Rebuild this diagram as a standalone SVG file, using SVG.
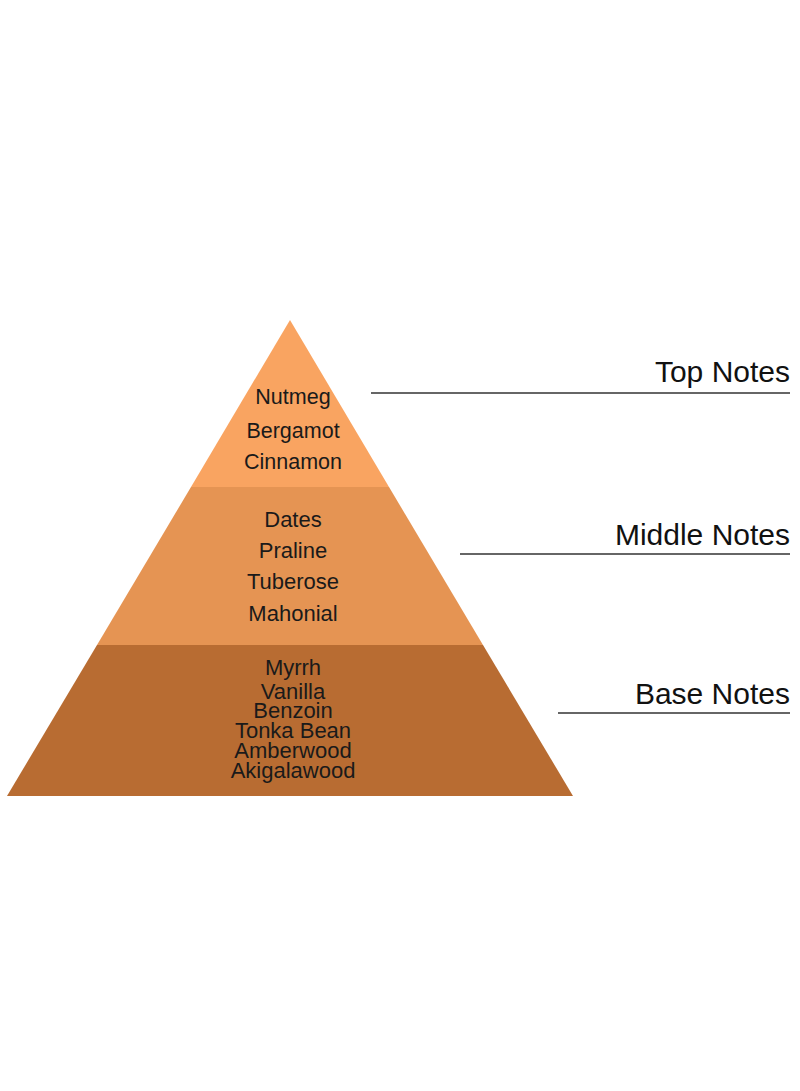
<svg xmlns="http://www.w3.org/2000/svg" width="800" height="1091" viewBox="0 0 800 1091">
<style>
.note{font-family:"Liberation Sans",Arial,sans-serif;fill:#1a1a1a;text-anchor:middle}
.lbl{font-family:"Liberation Sans",Arial,sans-serif;font-size:30px;fill:#111;text-anchor:end}
.ln{stroke:#333;stroke-width:1.6;fill:none}
</style>
<rect width="800" height="1091" fill="#ffffff"/>
<g id="top-tier">
<polygon points="290,320 389,487 191,487" fill="#F9A461"/>
<text class="note" x="293" y="404" font-size="21.5">Nutmeg</text>
<text class="note" x="293" y="438" font-size="21.5">Bergamot</text>
<text class="note" x="293" y="469" font-size="21.5">Cinnamon</text>
</g>
<g id="middle-tier">
<polygon points="191,487 389,487 483,645 97,645" fill="#E59453"/>
<text class="note" x="293" y="527" font-size="22">Dates</text>
<text class="note" x="293" y="558" font-size="22">Praline</text>
<text class="note" x="293" y="589" font-size="22">Tuberose</text>
<text class="note" x="293" y="621" font-size="22">Mahonial</text>
</g>
<g id="base-tier">
<polygon points="97,645 483,645 573,796 7,796" fill="#B86C32"/>
<text class="note" x="293" y="675" font-size="22">Myrrh</text>
<text class="note" x="293" y="699" font-size="22">Vanilla</text>
<text class="note" x="293" y="718" font-size="22">Benzoin</text>
<text class="note" x="293" y="738" font-size="22">Tonka Bean</text>
<text class="note" x="293" y="758" font-size="22">Amberwood</text>
<text class="note" x="293" y="778" font-size="22">Akigalawood</text>
</g>
<g id="label-top"><text class="lbl" x="790" y="382">Top Notes</text></g>
<g id="label-middle"><text class="lbl" x="790" y="545">Middle Notes</text></g>
<g id="label-base"><text class="lbl" x="790" y="704">Base Notes</text></g>
<g id="connectors">
<line class="ln" x1="371" y1="393" x2="790" y2="393"/>
<line class="ln" x1="460" y1="554" x2="790" y2="554"/>
<line class="ln" x1="558" y1="713" x2="790" y2="713"/>
</g>
</svg>
